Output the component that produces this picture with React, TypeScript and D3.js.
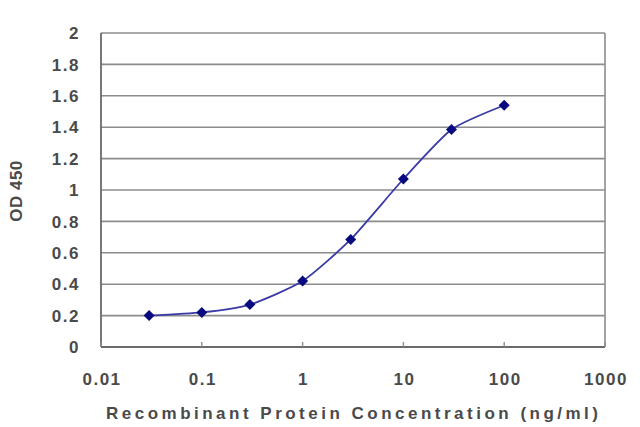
import * as d3 from "d3";

const concentrations = [0.03, 0.1, 0.3, 1, 3, 10, 30, 100];
const od450 = [0.2, 0.22, 0.27, 0.42, 0.685, 1.07, 1.385, 1.54];
const xTicks = [0.01, 0.1, 1, 10, 100, 1000];
const xTickLabels = ["0.01", "0.1", "1", "10", "100", "1000"];
const yTicks = [0, 0.2, 0.4, 0.6, 0.8, 1, 1.2, 1.4, 1.6, 1.8, 2];
const yTickLabels = ["0", "0.2", "0.4", "0.6", "0.8", "1", "1.2", "1.4", "1.6", "1.8", "2"];

const WIDTH = 640;
const HEIGHT = 427;
const LEFT = 101;
const RIGHT = 605;
const TOP = 33;
const BOTTOM = 347;
const FONT = "'Liberation Sans', Arial, sans-serif";
const TEXT = "#4a4a4a";

export default function App() {
  const x = d3.scaleLog().domain([0.01, 1000]).range([LEFT, RIGHT]);
  const y = d3.scaleLinear().domain([0, 2]).range([BOTTOM, TOP]);

  const pts = concentrations.map((c, i) => [x(c), y(od450[i])] as [number, number]);
  const line = d3.line().curve(d3.curveCardinal.tension(0.4))(pts);

  return (
    <div style={{ position: "absolute", left: 0, top: 0 }}>
      <svg width={WIDTH} height={HEIGHT} style={{ display: "block", background: "#fff" }}>
        {/* grid lines */}
        {yTicks.map((t) => (
          <line key={t} x1={LEFT} x2={RIGHT} y1={y(t)} y2={y(t)} stroke="#8c8c8c" strokeWidth={1.6} />
        ))}
        {/* frame */}
        <line x1={RIGHT} x2={RIGHT} y1={TOP} y2={BOTTOM} stroke="#8c8c8c" strokeWidth={1.6} />
        <line x1={LEFT} x2={LEFT} y1={TOP} y2={BOTTOM} stroke="#6a6a6a" strokeWidth={1.8} />
        <line x1={LEFT} x2={RIGHT} y1={BOTTOM} y2={BOTTOM} stroke="#6a6a6a" strokeWidth={1.8} />
        {/* x ticks */}
        {xTicks.map((t) => (
          <line key={t} x1={x(t)} x2={x(t)} y1={BOTTOM} y2={BOTTOM - 5} stroke="#8c8c8c" strokeWidth={1.4} />
        ))}
        {/* y labels */}
        {yTicks.map((t, i) => (
          <text key={t} x={80} y={y(t)} dy="0.36em" textAnchor="end" fontFamily={FONT}
            fontSize={17} fontWeight="bold" letterSpacing={1.5} fill={TEXT}>
            {yTickLabels[i]}
          </text>
        ))}
        {/* x labels */}
        {xTicks.map((t, i) => (
          <text key={t} x={x(t) + 1} y={385} textAnchor="middle" fontFamily={FONT}
            fontSize={17} fontWeight="bold" letterSpacing={1.5} fill={TEXT}>
            {xTickLabels[i]}
          </text>
        ))}
        <text x={352} y={419} textAnchor="middle" fontFamily={FONT} fontSize={17} fontWeight="bold"
          textLength={492} lengthAdjust="spacing" fill={TEXT}>
          Recombinant Protein Concentration (ng/ml)
        </text>
        <text transform="translate(22,191) rotate(-90)" textAnchor="middle" fontFamily={FONT}
          fontSize={17} fontWeight="bold" letterSpacing={0.5} fill={TEXT}>
          OD 450
        </text>
        {/* series */}
        <path d={line ?? ""} fill="none" stroke="#3a3aa8" strokeWidth={1.8} />
        {pts.map(([px, py], i) => (
          <path key={i} d={`M${px},${py - 5.5}L${px + 5.5},${py}L${px},${py + 5.5}L${px - 5.5},${py}Z`} fill="#0a0a80" />
        ))}
      </svg>
    </div>
  );
}
